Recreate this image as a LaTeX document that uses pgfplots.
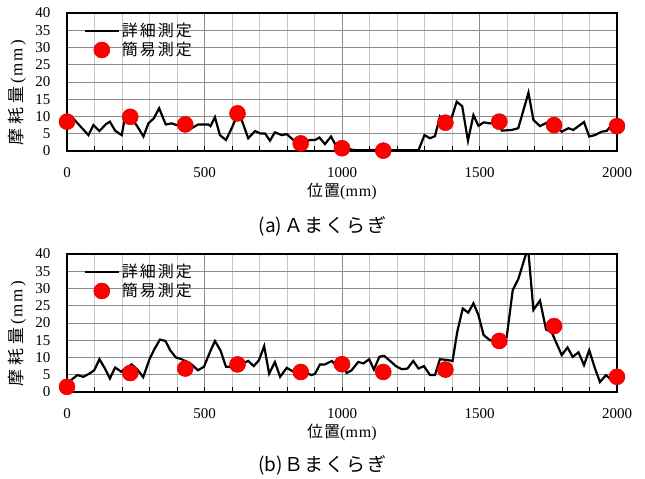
\documentclass[border=0pt]{standalone}
\usepackage{fontspec}
\setmainfont{Liberation Serif}
\newfontfamily\tms{Liberation Serif}
\newfontfamily\cjk{Noto Sans CJK JP}
\usepackage{pgfplots}
\usepackage{pgfplotstable}
\pgfplotsset{compat=1.18}

\pgfplotstableread{
x y
0 8.8
17 9.9
78 4.6
96 7.5
118 5.8
142 7.8
156 8.5
175 5.9
199 4.6
211 9.9
230 9.5
253 7.5
278 4.2
296 8.0
316 9.5
335 12.4
359 7.7
381 8.0
399 7.5
429 7.6
453 6.6
477 7.7
514 7.7
522 7.2
538 9.8
556 4.6
578 3.2
599 6.6
620 10.5
635 9.0
659 3.7
684 5.8
702 5.1
720 5.1
738 3.0
756 5.4
781 4.6
799 4.9
823 3.2
850 2.2
884 3.2
902 3.2
918 3.9
938 2.0
960 4.2
975 2.0
1000 0.8
1029 0.5
1050 0.2
1100 0.2
1150 0.2
1200 0.2
1278 0.2
1300 4.6
1320 3.7
1338 4.3
1356 10.0
1376 8.2
1399 9.7
1417 14.3
1437 13.0
1458 3.0
1478 10.4
1496 7.3
1516 8.3
1538 8.0
1572 8.2
1581 5.9
1617 6.1
1641 6.6
1678 16.9
1696 9.0
1720 7.2
1744 8.2
1771 7.5
1799 5.6
1823 6.6
1841 6.1
1880 8.4
1899 4.2
1920 4.6
1944 5.6
1962 5.8
1981 7.5
2000 7.2
}\detA

\pgfplotstableread{
x y
0 8.5
230 9.9
430 7.7
620 10.9
850 2.2
1000 0.8
1150 0.1
1376 8.2
1572 8.5
1771 7.5
2000 7.2
}\simA

\pgfplotstableread{
x y
0 1.5
17 3.6
38 4.9
59 4.4
81 5.3
99 6.3
118 9.5
138 6.8
156 3.9
175 7.1
197 5.9
235 8.0
256 6.5
277 4.3
300 9.5
317 12.3
338 15.2
358 14.8
376 12.0
396 10.0
417 9.5
435 8.8
453 8.0
476 6.3
498 7.3
520 11.6
538 14.8
559 11.9
578 7.3
599 7.3
620 8.0
640 8.3
659 9.0
679 7.5
698 9.2
717 13.3
735 5.3
756 8.7
775 4.4
799 7.0
821 6.0
850 6.0
870 5.5
890 4.9
902 5.3
920 8.0
938 8.0
963 9.0
980 7.5
1000 8.0
1017 5.5
1035 6.3
1059 8.7
1078 8.3
1099 9.5
1116 6.5
1136 10.2
1153 10.5
1175 9.0
1196 7.5
1217 6.6
1238 6.8
1259 9.0
1278 6.8
1298 7.5
1320 4.9
1338 4.9
1356 9.5
1381 9.3
1402 9.0
1419 17.4
1439 24.2
1459 23.0
1478 25.7
1496 22.3
1515 16.5
1538 15.0
1560 14.8
1599 16.0
1621 29.6
1641 32.7
1671 40.5
1678 40.5
1696 23.8
1720 26.5
1742 18.1
1762 17.4
1799 10.7
1820 12.9
1839 10.2
1860 11.5
1880 7.8
1899 12.1
1920 6.8
1938 2.9
1960 4.9
1981 3.4
2000 4.4
}\detB

\pgfplotstableread{
x y
0 1.5
230 5.5
430 6.8
620 8.0
850 5.8
1000 8.05
1150 5.8
1376 6.5
1572 14.8
1771 19.1
2000 4.4
}\simB

\newcommand{\ylab}{{\cjk 摩\hspace{4pt}耗\hspace{4pt}量}\hspace{3pt}(\hspace{2pt}m\hspace{2pt}m\hspace{2pt})}
\newcommand{\xlab}{{\cjk 位\hspace{1pt}置}(m\hspace{1pt}m)}
\newcommand{\ldA}{詳\hspace{2pt}細\hspace{2pt}測\hspace{2pt}定}
\newcommand{\ldB}{簡\hspace{2pt}易\hspace{2pt}測\hspace{2pt}定}

\pgfplotsset{
 myaxis/.style={
  scale only axis, width=550pt, height=138pt,
  xmin=0, xmax=2000, ymin=0, ymax=40,
  xtick={0,500,...,2000}, minor xtick={100,200,...,1900},
  ytick={0,5,...,40},
  grid=both,
  major grid style={black!45, line width=0.9pt},
  minor grid style={black!22, line width=0.9pt},
  axis line style={black, line width=1.3pt},
  tick align=inside,
  major tick length=5pt, minor tick length=5pt,
  xtick style={black, line width=1pt},
  ytick style={draw=none},
  xtick pos=bottom, ytick pos=left,
  ticklabel style={font=\tms\fontsize{15}{15}\selectfont},
  xticklabel style={yshift=-13pt},
  yticklabel style={xshift=-13pt},
  /pgf/number format/assume math mode=true,
  /pgf/number format/1000 sep={},
  xlabel={\xlab},
  ylabel={\ylab},
  xlabel style={at={(axis description cs:0.5,-0.295)}, anchor=center, font=\tms\fontsize{16}{16}\selectfont},
  ylabel style={at={(axis description cs:-0.0909,0.42)}, anchor=center, rotate=0, font=\tms\fontsize{17}{17}\selectfont},
  legend style={at={(axis description cs:0.03,0.94)}, anchor=north west, draw=none, fill=none,
    font=\cjk\fontsize{16}{17}\selectfont, row sep=0pt, inner sep=0pt},
  legend cell align=left,
 },
 detline/.style={black, line width=2.2pt, mark=none,
   legend image code/.code={\draw[black, line width=2.2pt] (0pt,0pt) -- (34pt,0pt);}},
 simdots/.style={only marks, mark=*, mark size=8pt, mark options={fill=red, draw=red!85!black, line width=0.5pt},
   legend image code/.code={\draw[fill=red, draw=red!85!black, line width=0.5pt] (17pt,0pt) circle (8pt);}},
}

\begin{document}
\begin{tikzpicture}
\useasboundingbox (0pt,0pt) rectangle (645pt,479pt);
\begin{axis}[myaxis, at={(67pt,328pt)}, anchor=south west]
\addplot[detline] table[x=x,y=y] {\detA};
\addlegendentry{\ldA}
\addplot[simdots] table[x=x,y=y] {\simA};
\addlegendentry{\ldB}
\end{axis}
\node[font=\cjk\fontsize{19}{19}\selectfont] at (322.5pt,253pt) {(a)\hspace{2pt}Ａ\hspace{1pt}ま\hspace{2pt}く\hspace{2pt}ら\hspace{2pt}ぎ};
\begin{axis}[myaxis, at={(67pt,87pt)}, anchor=south west]
\addplot[detline] table[x=x,y=y] {\detB};
\addlegendentry{\ldA}
\addplot[simdots] table[x=x,y=y] {\simB};
\addlegendentry{\ldB}
\end{axis}
\node[font=\cjk\fontsize{19}{19}\selectfont] at (322.5pt,14pt) {(b)\hspace{2pt}Ｂ\hspace{1pt}ま\hspace{2pt}く\hspace{2pt}ら\hspace{2pt}ぎ};
\end{tikzpicture}
\end{document}
